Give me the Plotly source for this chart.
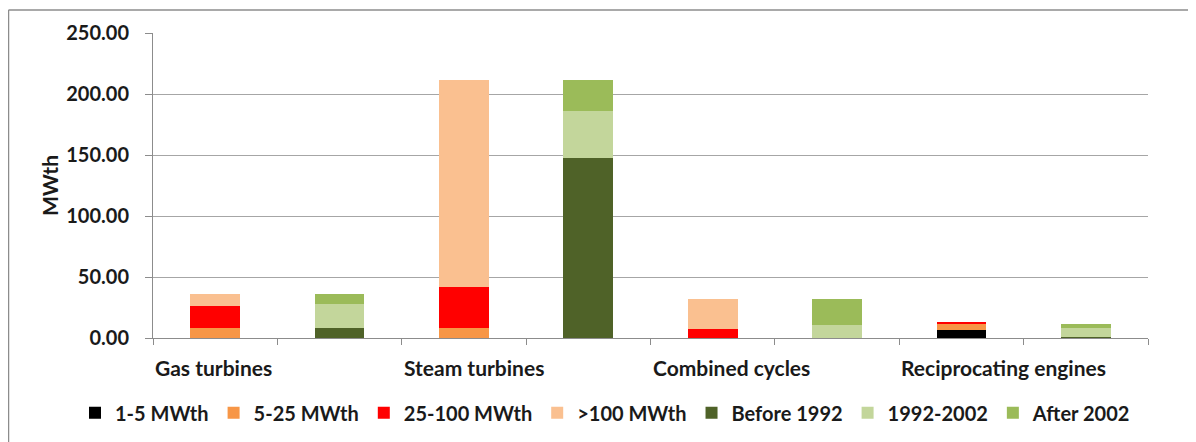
import plotly.graph_objects as go

categories = ["Gas turbines", "Steam turbines", "Combined cycles", "Reciprocating engines"]

# size-class series (left bar of each pair)
size_names = ["1-5 MWth", "5-25 MWth", "25-100 MWth", ">100 MWth"]
s_1_5 = [0.0, 0.0, 0.0, 6.2]
s_5_25 = [8.4, 8.4, 0.0, 5.5]
s_25_100 = [18.1, 33.4, 7.4, 0.8]
s_100p = [9.8, 169.9, 24.8, 0.0]

# age-class series (right bar of each pair)
age_names = ["Before 1992", "1992-2002", "After 2002"]
a_before = [8.2, 147.8, 0.0, 1.2]
a_mid = [19.7, 38.3, 10.3, 6.7]
a_after = [8.4, 25.6, 21.9, 3.8]

size_colors = ["#000000", "#F79646", "#FF0000", "#FAC090"]
age_colors = ["#4F6228", "#C3D69B", "#9BBB59"]

FONT = dict(family="Lato", size=21, color="#1a1a1a", weight="bold")
FONT20 = dict(family="Lato", size=20, color="#1a1a1a", weight="bold")

n = len(categories)
size_x = [2 * i for i in range(n)]
age_x = [2 * i + 1 for i in range(n)]

fig = go.Figure()
for name, vals, col in zip(size_names, [s_1_5, s_5_25, s_25_100, s_100p], size_colors):
    fig.add_trace(go.Bar(x=size_x, y=vals, name=name, marker=dict(color=col, line=dict(width=0)), width=0.4))
for name, vals, col in zip(age_names, [a_before, a_mid, a_after], age_colors):
    fig.add_trace(go.Bar(x=age_x, y=vals, name=name, marker=dict(color=col, line=dict(width=0)), width=0.4))

annotations = []
for i, c in enumerate(categories):
    annotations.append(dict(x=2 * i - 0.5, y=-0.097, xref="x", yref="paper", text=c, showarrow=False,
                            xanchor="left", yanchor="middle", font=FONT))

L, W, T, H = 145, 995, 25, 305
# chart-area border (left and top visible)
bx = (0.5 - L) / W
by = (T + H - 2) / H
shapes = [
    dict(type="line", xref="paper", yref="paper", x0=bx, x1=bx, y0=by, y1=-0.5, line=dict(color="#8c8c8c", width=1.5)),
    dict(type="line", xref="paper", yref="paper", x0=bx, x1=1.2, y0=by, y1=by, line=dict(color="#8c8c8c", width=1.5)),
]

fig.update_layout(
    barmode="stack",
    width=1196, height=442,
    margin=dict(l=L, r=1196 - L - W, t=T, b=442 - T - H, autoexpand=False),
    paper_bgcolor="white", plot_bgcolor="white",
    font=FONT,
    annotations=annotations,
    shapes=shapes,
    legend=dict(orientation="h", x=(67 - L) / W, xanchor="left", y=-0.245, yanchor="middle",
                font=FONT20, traceorder="normal", itemwidth=30),
    showlegend=True,
)
fig.update_xaxes(range=[-0.5, 2 * n - 0.5], tickmode="array",
                 tickvals=[i - 0.5 for i in range(2 * n + 1)], showticklabels=False,
                 ticks="outside", ticklen=6, tickcolor="#8c8c8c", showgrid=False,
                 showline=True, linecolor="#8c8c8c", linewidth=1, zeroline=False)
fig.update_yaxes(range=[0, 250], dtick=50, tickformat=".2f", showgrid=True, gridcolor="#a6a6a6",
                 gridwidth=1, ticks="outside", ticklen=7, tickcolor="#8c8c8c", showline=True,
                 linecolor="#8c8c8c", linewidth=1, zeroline=False, tickfont=FONT20,
                 ticklabelstandoff=12,
                 title=dict(text="MWth", font=FONT, standoff=1))

fig.write_html("out.html")
